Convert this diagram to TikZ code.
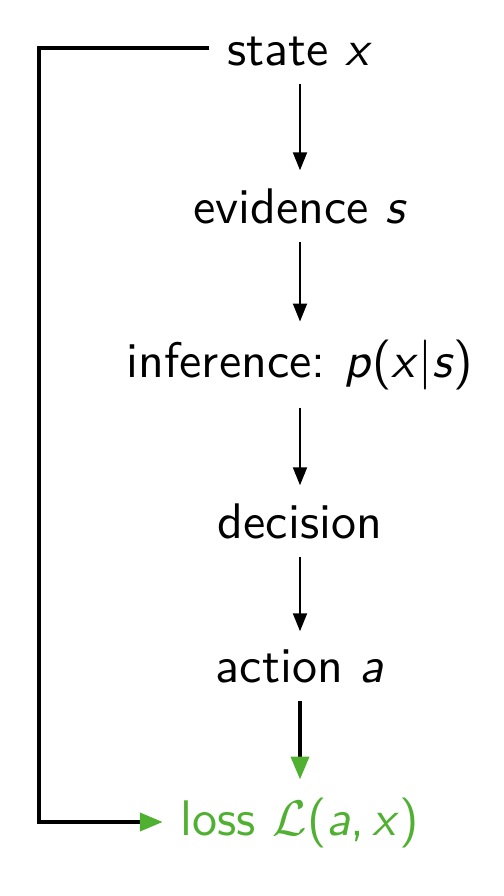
\documentclass[tikz,border=0pt]{standalone}
\usepackage{fontspec}
\usetikzlibrary{arrows.meta}
\definecolor{lossgreen}{RGB}{80,176,50}
\tikzset{
  lbl/.style={inner sep=3.4pt, anchor=base, font=\sffamily},
  thinarrow/.style={line width=0.4pt, -{Triangle[width=2.8pt,length=3.6pt]}},
  thickarrow/.style={line width=0.8pt, -{Triangle[width=3.6pt,length=4.6pt,color=lossgreen]}}
}
\begin{document}
\begin{tikzpicture}[x=0.2pt,y=-0.2pt]
\useasboundingbox (0,0) rectangle (504,896);
\node[lbl] (state) at (300,65) {state \textsl{x}};
\node[lbl] (evid) at (300,223) {evidence \textsl{s}};
\node[lbl] (infer) at (300,377) {inference:\hspace{3.8pt}\textsl{p}(\textsl{x}|\textsl{s})};
\node[lbl] (dec) at (300,538) {decision};
\node[lbl] (act) at (300,682) {action \textsl{a}};
\node[lbl, text=lossgreen] (loss) at (300,835) {loss $\mathcal{L}$(\textsl{a},\,\textsl{x})};
\coordinate (tl) at (39,48);
\coordinate (bl) at (39,822);
\draw[thinarrow] (state.south -| 300,0) -- (evid.north -| 300,0);
\draw[thinarrow] (evid.south -| 300,0) -- (infer.north -| 300,0);
\draw[thinarrow] (infer.south -| 300,0) -- (dec.north -| 300,0);
\draw[thinarrow] (dec.south -| 300,0) -- (act.north -| 300,0);
\draw[thickarrow] (act.south -| 300,0) -- (loss.north -| 300,0);
\draw[thickarrow] (state.west |- tl) -- (tl) -- (bl) -- (bl -| loss.west);
\end{tikzpicture}
\end{document}
